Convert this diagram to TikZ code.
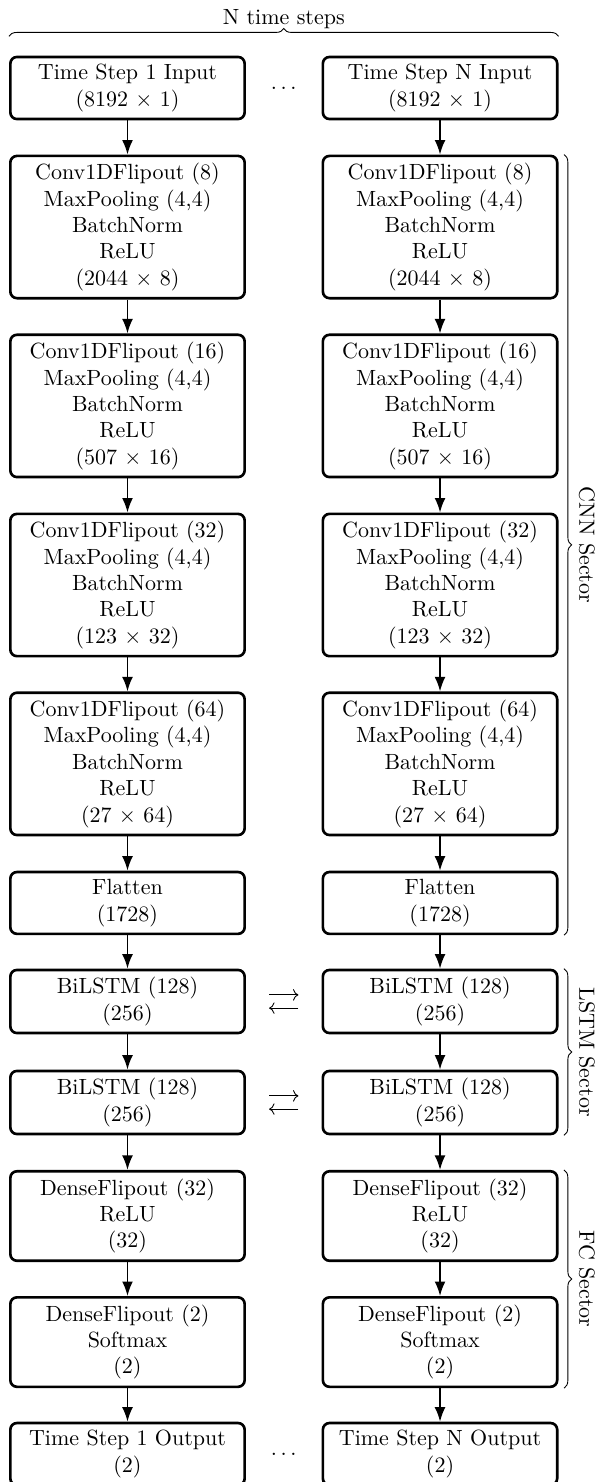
\documentclass[tikz,border=0pt]{standalone}
\usepackage{amsmath}
\usepackage{tikz}
\usetikzlibrary{arrows.meta,decorations.pathreplacing}
\tikzset{
    every node/.style={align=center,},
    layer/.style={draw,rectangle,rounded corners=3pt,very thick,minimum width=106.5pt,},
    flow/.style={-Latex,thick,},
    sector/.style={decorate,decoration={brace,amplitude=3.5pt,raise=2.5pt},},
}

\begin{document}
\begin{tikzpicture}
                \useasboundingbox (0pt,0pt) rectangle (270.45pt,-673.6pt);

                % time step 1
                \node[layer] (input_1) at (57.95pt, -40pt) {Time Step 1 Input\\(8192 $\times$ 1)};
                \node[layer] (conv_8_1) at (57.95pt, -103.2pt) {Conv1DFlipout (8)\\MaxPooling (4,4)\\BatchNorm\\ReLU\\(2044 $\times$ 8)};
                \node[layer] (conv_16_1) at (57.95pt, -184.5pt) {Conv1DFlipout (16)\\MaxPooling (4,4)\\BatchNorm\\ReLU\\(507 $\times$ 16)};
                \node[layer] (conv_32_1) at (57.95pt, -265.9pt) {Conv1DFlipout (32)\\MaxPooling (4,4)\\BatchNorm\\ReLU\\(123 $\times$ 32)};
                \node[layer] (conv_64_1) at (57.95pt, -347.2pt) {Conv1DFlipout (64)\\MaxPooling (4,4)\\BatchNorm\\ReLU\\(27 $\times$ 64)};
                \node[layer] (flatten_1) at (57.95pt, -410.4pt) {Flatten\\(1728)};
                \node[layer] (lstm_a_1) at (57.95pt, -455.2pt) {BiLSTM (128)\\(256)};
                \node[layer] (lstm_b_1) at (57.95pt, -501.1pt) {BiLSTM (128)\\(256)};
                \node[layer] (dense_32_1) at (57.95pt, -552.7pt) {DenseFlipout (32)\\ReLU\\(32)};
                \node[layer] (dense_2_1) at (57.95pt, -610pt) {DenseFlipout (2)\\Softmax\\(2)};
                \node[layer] (output_1) at (57.95pt, -660.9pt) {Time Step 1 Output\\(2)};

                % time step N
                \node[layer] (input_n) at (200pt, -40pt) {Time Step N Input\\(8192 $\times$ 1)};
                \node[layer] (conv_8_n) at (200pt, -103.2pt) {Conv1DFlipout (8)\\MaxPooling (4,4)\\BatchNorm\\ReLU\\(2044 $\times$ 8)};
                \node[layer] (conv_16_n) at (200pt, -184.5pt) {Conv1DFlipout (16)\\MaxPooling (4,4)\\BatchNorm\\ReLU\\(507 $\times$ 16)};
                \node[layer] (conv_32_n) at (200pt, -265.9pt) {Conv1DFlipout (32)\\MaxPooling (4,4)\\BatchNorm\\ReLU\\(123 $\times$ 32)};
                \node[layer] (conv_64_n) at (200pt, -347.2pt) {Conv1DFlipout (64)\\MaxPooling (4,4)\\BatchNorm\\ReLU\\(27 $\times$ 64)};
                \node[layer] (flatten_n) at (200pt, -410.4pt) {Flatten\\(1728)};
                \node[layer] (lstm_a_n) at (200pt, -455.2pt) {BiLSTM (128)\\(256)};
                \node[layer] (lstm_b_n) at (200pt, -501.1pt) {BiLSTM (128)\\(256)};
                \node[layer] (dense_32_n) at (200pt, -552.7pt) {DenseFlipout (32)\\ReLU\\(32)};
                \node[layer] (dense_2_n) at (200pt, -610pt) {DenseFlipout (2)\\Softmax\\(2)};
                \node[layer] (output_n) at (200pt, -660.9pt) {Time Step N Output\\(2)};

                \node (dots_input) at (128.98pt, -40pt) {$\ldots$};
                \node (dots_output) at (128.98pt, -660.9pt) {$\ldots$};

                \draw[flow] (input_1) to (conv_8_1);
                \draw[flow] (conv_8_1) to (conv_16_1);
                \draw[flow] (conv_16_1) to (conv_32_1);
                \draw[flow] (conv_32_1) to (conv_64_1);
                \draw[flow] (conv_64_1) to (flatten_1);
                \draw[flow] (flatten_1) to (lstm_a_1);
                \draw[flow] (lstm_a_1) to (lstm_b_1);
                \draw[flow] (lstm_b_1) to (dense_32_1);
                \draw[flow] (dense_32_1) to (dense_2_1);
                \draw[flow] (dense_2_1) to (output_1);

                \draw[flow] (input_n) to (conv_8_n);
                \draw[flow] (conv_8_n) to (conv_16_n);
                \draw[flow] (conv_16_n) to (conv_32_n);
                \draw[flow] (conv_32_n) to (conv_64_n);
                \draw[flow] (conv_64_n) to (flatten_n);
                \draw[flow] (flatten_n) to (lstm_a_n);
                \draw[flow] (lstm_a_n) to (lstm_b_n);
                \draw[flow] (lstm_b_n) to (dense_32_n);
                \draw[flow] (dense_32_n) to (dense_2_n);
                \draw[flow] (dense_2_n) to (output_n);

                % bidirectional links
                \draw[->,shorten <=10.5pt,shorten >=10.5pt] ([yshift=3pt]lstm_a_1.east) to ([yshift=3pt]lstm_a_n.west);
                \draw[->,shorten <=10.5pt,shorten >=10.5pt] ([yshift=-3pt]lstm_a_n.west) to ([yshift=-3pt]lstm_a_1.east);
                \draw[->,shorten <=10.5pt,shorten >=10.5pt] ([yshift=3pt]lstm_b_1.east) to ([yshift=3pt]lstm_b_n.west);
                \draw[->,shorten <=10.5pt,shorten >=10.5pt] ([yshift=-3pt]lstm_b_n.west) to ([yshift=-3pt]lstm_b_1.east);

                % braces
                \draw[decorate,decoration={brace,amplitude=3.5pt,raise=8.8pt}] (input_1.north west) -- (input_n.north east)
                    node[midway,anchor=base,yshift=14.3pt] (steps_label) {N time steps};
                \draw[sector] (conv_8_n.north east) -- (flatten_n.south east)
                    node[midway,xshift=9.5pt,rotate=-90,anchor=base] (cnn_label) {CNN Sector};
                \draw[sector] (lstm_a_n.north east) -- (lstm_b_n.south east)
                    node[midway,xshift=9.5pt,rotate=-90,anchor=base] (lstm_label) {LSTM Sector};
                \draw[sector] (dense_32_n.north east) -- (dense_2_n.south east)
                    node[midway,xshift=9.5pt,rotate=-90,anchor=base] (fc_label) {FC Sector};
            \end{tikzpicture}
\end{document}
